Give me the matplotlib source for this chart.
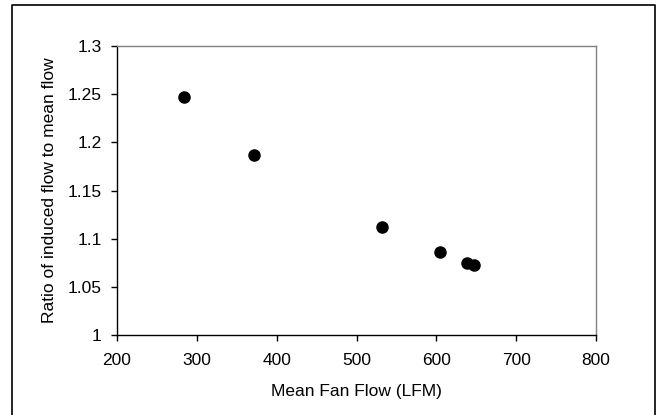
import matplotlib
matplotlib.use("Agg")
import matplotlib.pyplot as plt
from matplotlib.lines import Line2D

plt.rcParams['font.family'] = ['Liberation Sans', 'DejaVu Sans']

# data
fan_flow = [284, 372, 532, 604, 639, 647]
ratio = [1.247, 1.187, 1.112, 1.086, 1.075, 1.073]

W, H = 657, 415
fig = plt.figure(figsize=(W / 100, H / 100), dpi=100)
ax = fig.add_axes([117 / W, 1 - 335 / H, (596 - 117) / W, (335 - 46) / H])

ax.scatter(fan_flow, ratio, s=64, color='black', zorder=3)

ax.set_xlim(200, 800)
ax.set_ylim(1, 1.3)
ax.set_xticks([200, 300, 400, 500, 600, 700, 800])
ax.set_yticks([1, 1.05, 1.1, 1.15, 1.2, 1.25, 1.3])
ax.set_yticklabels(['1', '1.05', '1.1', '1.15', '1.2', '1.25', '1.3'])

# Excel-style frame: black axes, grey top/right
ax.spines['top'].set_color('#808080')
ax.spines['right'].set_color('#808080')
for s in ['left', 'bottom']:
    ax.spines[s].set_color('black')
for s in ax.spines.values():
    s.set_linewidth(1.0)
ax.tick_params(direction='out', length=4, width=1, labelsize=12.5, colors='black')
ax.tick_params(axis='x', pad=9)
ax.tick_params(axis='y', pad=7)

ax.set_xlabel('Mean Fan Flow (LFM)', fontsize=12.5)
ax.set_ylabel('Ratio of induced flow to mean flow', fontsize=12.5)
ax.xaxis.set_label_coords(0.5, -(384 - 335) / 289)
ax.yaxis.set_label_coords(-(117 - 57) / 479, 0.5)

# outer border (left, top, right edges)
bx = [12 / W, 12 / W, 655 / W, 655 / W]
by = [-0.01, 1 - 5 / H, 1 - 5 / H, -0.01]
fig.lines.append(Line2D(bx, by, transform=fig.transFigure, color='black', linewidth=1.2))

fig.savefig('out.png', dpi=100)
